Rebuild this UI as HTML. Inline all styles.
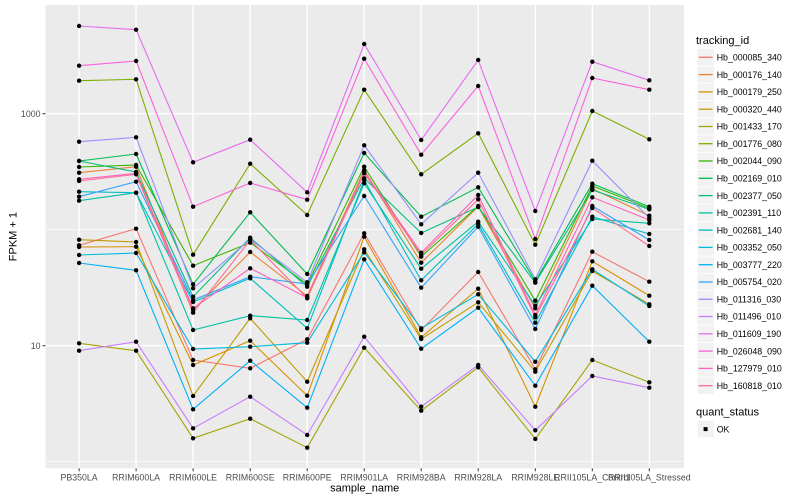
<!DOCTYPE html>
<html><head><meta charset="utf-8"><style>
html,body{margin:0;padding:0;background:#fff;}
svg{display:block;font-family:"Liberation Sans",Arial,sans-serif;}
.ln{fill:none;stroke-width:1.1;}
.pt{fill:none;stroke:none;marker-start:url(#m);marker-mid:url(#m);marker-end:url(#m);}
.tk{font-size:8.8px;fill:#4d4d4d;}
.lg{font-size:8.8px;fill:#000;}
</style></head><body>
<svg width="800" height="500" viewBox="0 0 800 500" xmlns="http://www.w3.org/2000/svg">
<defs><marker id="m" markerWidth="6" markerHeight="6" refX="3" refY="3" markerUnits="userSpaceOnUse"><circle cx="3" cy="3" r="2.2" fill="#000"/></marker></defs>
<rect x="0" y="0" width="800" height="500" fill="#fff"/>
<rect x="45.5" y="5" width="638.5" height="463.3" fill="#ebebeb"/>
<g stroke="#fff" stroke-width="0.7">
<line x1="45.5" x2="684" y1="229.7" y2="229.7"/>
<line x1="45.5" x2="684" y1="461.7" y2="461.7"/>
</g>
<g stroke="#fff" stroke-width="1.4">
<line x1="45.5" x2="684" y1="113.7" y2="113.7"/>
<line x1="45.5" x2="684" y1="345.7" y2="345.7"/>
<line x1="79.1" x2="79.1" y1="5" y2="468.3"/>
<line x1="136.1" x2="136.1" y1="5" y2="468.3"/>
<line x1="193.1" x2="193.1" y1="5" y2="468.3"/>
<line x1="250.2" x2="250.2" y1="5" y2="468.3"/>
<line x1="307.2" x2="307.2" y1="5" y2="468.3"/>
<line x1="364.2" x2="364.2" y1="5" y2="468.3"/>
<line x1="421.2" x2="421.2" y1="5" y2="468.3"/>
<line x1="478.2" x2="478.2" y1="5" y2="468.3"/>
<line x1="535.3" x2="535.3" y1="5" y2="468.3"/>
<line x1="592.3" x2="592.3" y1="5" y2="468.3"/>
<line x1="649.3" x2="649.3" y1="5" y2="468.3"/>
</g>
<g id="lines" class="ln">
<polyline stroke="#F8766D" points="79.1,245.3 136.1,228.7 193.1,360 250.2,368.3 307.2,339.3 364.2,233.3 421.2,330 478.2,272 535.3,369.3 592.3,251.7 649.3,281.7"/>
<polyline stroke="#EA8331" points="79.1,172.7 136.1,166.7 193.1,310 250.2,252 307.2,296 364.2,170 421.2,262.7 478.2,206.5 535.3,308.3 592.3,188.7 649.3,215.7"/>
<polyline stroke="#D89000" points="79.1,247 136.1,246.7 193.1,365 250.2,340.7 307.2,395.7 364.2,236.7 421.2,337.3 478.2,288.7 535.3,406.7 592.3,261.3 649.3,295.7"/>
<polyline stroke="#C09B00" points="79.1,239.7 136.1,242 193.1,396 250.2,318.3 307.2,381.7 364.2,249.3 421.2,339 478.2,302.3 535.3,371.7 592.3,271 649.3,304.3"/>
<polyline stroke="#A3A500" points="79.1,343.3 136.1,350.7 193.1,438.3 250.2,418.7 307.2,447.7 364.2,347.7 421.2,410.7 478.2,367.3 535.3,439 592.3,360 649.3,382.3"/>
<polyline stroke="#7CAE00" points="79.1,80.7 136.1,79.3 193.1,254.7 250.2,163.7 307.2,215 364.2,89.7 421.2,174.3 478.2,133.3 535.3,244.7 592.3,111 649.3,139.3"/>
<polyline stroke="#39B600" points="79.1,167 136.1,165 193.1,265.7 250.2,242.7 307.2,284.3 364.2,166.7 421.2,256.7 478.2,206 535.3,300.7 592.3,186 649.3,208.3"/>
<polyline stroke="#00BB4E" points="79.1,161 136.1,154 193.1,284.3 250.2,212.3 307.2,274 364.2,153 421.2,216.7 478.2,187.3 535.3,281.3 592.3,183.7 649.3,206.7"/>
<polyline stroke="#00BF7D" points="79.1,161 136.1,172 193.1,296.7 250.2,237.7 307.2,286.7 364.2,178.3 421.2,233 478.2,207 535.3,282.7 592.3,190 649.3,209.3"/>
<polyline stroke="#00C1A3" points="79.1,200.7 136.1,192.7 193.1,330 250.2,315.7 307.2,320 364.2,183.3 421.2,268.7 478.2,221.7 535.3,305.7 592.3,219 649.3,223.3"/>
<polyline stroke="#00BFC4" points="79.1,191.7 136.1,192.7 193.1,302 250.2,278.3 307.2,328.3 364.2,180 421.2,280.3 478.2,224 535.3,322.7 592.3,216.7 649.3,234"/>
<polyline stroke="#00BAE0" points="79.1,255 136.1,253 193.1,349 250.2,346.7 307.2,342.7 364.2,252.3 421.2,328.3 478.2,294.3 535.3,361.7 592.3,269.3 649.3,306"/>
<polyline stroke="#00B0F6" points="79.1,263 136.1,270.3 193.1,409.3 250.2,360.7 307.2,407.7 364.2,259.3 421.2,348.7 478.2,307.7 535.3,385.7 592.3,285.7 649.3,341.7"/>
<polyline stroke="#35A2FF" points="79.1,196.7 136.1,181.7 193.1,300 250.2,276.7 307.2,284 364.2,196 421.2,287.7 478.2,226.7 535.3,329 592.3,206 649.3,240"/>
<polyline stroke="#9590FF" points="79.1,141.7 136.1,137.3 193.1,288.3 250.2,239.3 307.2,282.3 364.2,145.3 421.2,224.3 478.2,172.7 535.3,279.3 592.3,160.7 649.3,218"/>
<polyline stroke="#C77CFF" points="79.1,350.7 136.1,341.7 193.1,428.3 250.2,396.7 307.2,435 364.2,336.7 421.2,406.7 478.2,365 535.3,430.3 592.3,376 649.3,387.7"/>
<polyline stroke="#E76BF3" points="79.1,26 136.1,29.7 193.1,162.3 250.2,139.7 307.2,192.3 364.2,44 421.2,140 478.2,60 535.3,211 592.3,61.7 649.3,80.3"/>
<polyline stroke="#FA62DB" points="79.1,65.7 136.1,61 193.1,206.7 250.2,183 307.2,199.7 364.2,58.7 421.2,154.7 478.2,86 535.3,239 592.3,78 649.3,89.7"/>
<polyline stroke="#FF62BC" points="79.1,179.3 136.1,173.3 193.1,308.3 250.2,268.3 307.2,297.7 364.2,171.7 421.2,252.7 478.2,195 535.3,315 592.3,197.3 649.3,220"/>
<polyline stroke="#FF6C91" points="79.1,181 136.1,174.3 193.1,312.7 250.2,240 307.2,298.3 364.2,173.3 421.2,254.7 478.2,199.3 535.3,317.3 592.3,208 649.3,246"/>
</g>
<g class="pt">
<polyline points="79.1,245.3 136.1,228.7 193.1,360 250.2,368.3 307.2,339.3 364.2,233.3 421.2,330 478.2,272 535.3,369.3 592.3,251.7 649.3,281.7"/>
<polyline points="79.1,172.7 136.1,166.7 193.1,310 250.2,252 307.2,296 364.2,170 421.2,262.7 478.2,206.5 535.3,308.3 592.3,188.7 649.3,215.7"/>
<polyline points="79.1,247 136.1,246.7 193.1,365 250.2,340.7 307.2,395.7 364.2,236.7 421.2,337.3 478.2,288.7 535.3,406.7 592.3,261.3 649.3,295.7"/>
<polyline points="79.1,239.7 136.1,242 193.1,396 250.2,318.3 307.2,381.7 364.2,249.3 421.2,339 478.2,302.3 535.3,371.7 592.3,271 649.3,304.3"/>
<polyline points="79.1,343.3 136.1,350.7 193.1,438.3 250.2,418.7 307.2,447.7 364.2,347.7 421.2,410.7 478.2,367.3 535.3,439 592.3,360 649.3,382.3"/>
<polyline points="79.1,80.7 136.1,79.3 193.1,254.7 250.2,163.7 307.2,215 364.2,89.7 421.2,174.3 478.2,133.3 535.3,244.7 592.3,111 649.3,139.3"/>
<polyline points="79.1,167 136.1,165 193.1,265.7 250.2,242.7 307.2,284.3 364.2,166.7 421.2,256.7 478.2,206 535.3,300.7 592.3,186 649.3,208.3"/>
<polyline points="79.1,161 136.1,154 193.1,284.3 250.2,212.3 307.2,274 364.2,153 421.2,216.7 478.2,187.3 535.3,281.3 592.3,183.7 649.3,206.7"/>
<polyline points="79.1,161 136.1,172 193.1,296.7 250.2,237.7 307.2,286.7 364.2,178.3 421.2,233 478.2,207 535.3,282.7 592.3,190 649.3,209.3"/>
<polyline points="79.1,200.7 136.1,192.7 193.1,330 250.2,315.7 307.2,320 364.2,183.3 421.2,268.7 478.2,221.7 535.3,305.7 592.3,219 649.3,223.3"/>
<polyline points="79.1,191.7 136.1,192.7 193.1,302 250.2,278.3 307.2,328.3 364.2,180 421.2,280.3 478.2,224 535.3,322.7 592.3,216.7 649.3,234"/>
<polyline points="79.1,255 136.1,253 193.1,349 250.2,346.7 307.2,342.7 364.2,252.3 421.2,328.3 478.2,294.3 535.3,361.7 592.3,269.3 649.3,306"/>
<polyline points="79.1,263 136.1,270.3 193.1,409.3 250.2,360.7 307.2,407.7 364.2,259.3 421.2,348.7 478.2,307.7 535.3,385.7 592.3,285.7 649.3,341.7"/>
<polyline points="79.1,196.7 136.1,181.7 193.1,300 250.2,276.7 307.2,284 364.2,196 421.2,287.7 478.2,226.7 535.3,329 592.3,206 649.3,240"/>
<polyline points="79.1,141.7 136.1,137.3 193.1,288.3 250.2,239.3 307.2,282.3 364.2,145.3 421.2,224.3 478.2,172.7 535.3,279.3 592.3,160.7 649.3,218"/>
<polyline points="79.1,350.7 136.1,341.7 193.1,428.3 250.2,396.7 307.2,435 364.2,336.7 421.2,406.7 478.2,365 535.3,430.3 592.3,376 649.3,387.7"/>
<polyline points="79.1,26 136.1,29.7 193.1,162.3 250.2,139.7 307.2,192.3 364.2,44 421.2,140 478.2,60 535.3,211 592.3,61.7 649.3,80.3"/>
<polyline points="79.1,65.7 136.1,61 193.1,206.7 250.2,183 307.2,199.7 364.2,58.7 421.2,154.7 478.2,86 535.3,239 592.3,78 649.3,89.7"/>
<polyline points="79.1,179.3 136.1,173.3 193.1,308.3 250.2,268.3 307.2,297.7 364.2,171.7 421.2,252.7 478.2,195 535.3,315 592.3,197.3 649.3,220"/>
<polyline points="79.1,181 136.1,174.3 193.1,312.7 250.2,240 307.2,298.3 364.2,173.3 421.2,254.7 478.2,199.3 535.3,317.3 592.3,208 649.3,246"/>
</g>
<!-- axes ticks -->
<g stroke="#333" stroke-width="1">
<line x1="42.5" x2="45.5" y1="113.7" y2="113.7"/>
<line x1="42.5" x2="45.5" y1="345.7" y2="345.7"/>
<line x1="79.1" x2="79.1" y1="468.3" y2="471.3"/>
<line x1="136.1" x2="136.1" y1="468.3" y2="471.3"/>
<line x1="193.1" x2="193.1" y1="468.3" y2="471.3"/>
<line x1="250.2" x2="250.2" y1="468.3" y2="471.3"/>
<line x1="307.2" x2="307.2" y1="468.3" y2="471.3"/>
<line x1="364.2" x2="364.2" y1="468.3" y2="471.3"/>
<line x1="421.2" x2="421.2" y1="468.3" y2="471.3"/>
<line x1="478.2" x2="478.2" y1="468.3" y2="471.3"/>
<line x1="535.3" x2="535.3" y1="468.3" y2="471.3"/>
<line x1="592.3" x2="592.3" y1="468.3" y2="471.3"/>
<line x1="649.3" x2="649.3" y1="468.3" y2="471.3"/>
</g>
<text class="tk" x="40.5" y="116.9" text-anchor="end">1000</text>
<text class="tk" x="40.5" y="348.9" text-anchor="end">10</text>
<g class="tk" text-anchor="middle">
<text x="79.1" y="480.5">PB350LA</text>
<text x="136.1" y="480.5">RRIM600LA</text>
<text x="193.1" y="480.5">RRIM600LE</text>
<text x="250.2" y="480.5">RRIM600SE</text>
<text x="307.2" y="480.5">RRIM600PE</text>
<text x="364.2" y="480.5">RRIM901LA</text>
<text x="421.2" y="480.5">RRIM928BA</text>
<text x="478.2" y="480.5">RRIM928LA</text>
<text x="535.3" y="480.5">RRIM928LE</text>
<text x="592.3" y="480.5">RRII105LA_Control</text>
<text x="649.3" y="480.5">RRII105LA_Stressed</text>
</g>
<text x="364.7" y="491.5" font-size="11" text-anchor="middle" fill="#000">sample_name</text>
<text transform="translate(16.5,236.6) rotate(-90)" font-size="11" text-anchor="middle" fill="#000">FPKM + 1</text>
<!-- legend -->
<text x="696" y="44" font-size="11" fill="#000">tracking_id</text>
<g stroke="#fff" stroke-width="0.8" fill="#f2f2f2">
<rect x="697" y="48.7" width="17.3" height="17.3"/>
<rect x="697" y="66" width="17.3" height="17.3"/>
<rect x="697" y="83.3" width="17.3" height="17.3"/>
<rect x="697" y="100.5" width="17.3" height="17.3"/>
<rect x="697" y="117.8" width="17.3" height="17.3"/>
<rect x="697" y="135.1" width="17.3" height="17.3"/>
<rect x="697" y="152.4" width="17.3" height="17.3"/>
<rect x="697" y="169.7" width="17.3" height="17.3"/>
<rect x="697" y="186.9" width="17.3" height="17.3"/>
<rect x="697" y="204.2" width="17.3" height="17.3"/>
<rect x="697" y="221.5" width="17.3" height="17.3"/>
<rect x="697" y="238.8" width="17.3" height="17.3"/>
<rect x="697" y="256.1" width="17.3" height="17.3"/>
<rect x="697" y="273.3" width="17.3" height="17.3"/>
<rect x="697" y="290.6" width="17.3" height="17.3"/>
<rect x="697" y="307.9" width="17.3" height="17.3"/>
<rect x="697" y="325.2" width="17.3" height="17.3"/>
<rect x="697" y="342.5" width="17.3" height="17.3"/>
<rect x="697" y="359.7" width="17.3" height="17.3"/>
<rect x="697" y="377" width="17.3" height="17.3"/>
<rect x="697" y="420.5" width="17.3" height="17.3"/>
</g>
<g stroke-width="1.3">
<line x1="698.7" x2="712.6" y1="57.3" y2="57.3" stroke="#F8766D"/>
<line x1="698.7" x2="712.6" y1="74.6" y2="74.6" stroke="#EA8331"/>
<line x1="698.7" x2="712.6" y1="91.9" y2="91.9" stroke="#D89000"/>
<line x1="698.7" x2="712.6" y1="109.2" y2="109.2" stroke="#C09B00"/>
<line x1="698.7" x2="712.6" y1="126.5" y2="126.5" stroke="#A3A500"/>
<line x1="698.7" x2="712.6" y1="143.7" y2="143.7" stroke="#7CAE00"/>
<line x1="698.7" x2="712.6" y1="161" y2="161" stroke="#39B600"/>
<line x1="698.7" x2="712.6" y1="178.3" y2="178.3" stroke="#00BB4E"/>
<line x1="698.7" x2="712.6" y1="195.6" y2="195.6" stroke="#00BF7D"/>
<line x1="698.7" x2="712.6" y1="212.9" y2="212.9" stroke="#00C1A3"/>
<line x1="698.7" x2="712.6" y1="230.1" y2="230.1" stroke="#00BFC4"/>
<line x1="698.7" x2="712.6" y1="247.4" y2="247.4" stroke="#00BAE0"/>
<line x1="698.7" x2="712.6" y1="264.7" y2="264.7" stroke="#00B0F6"/>
<line x1="698.7" x2="712.6" y1="282" y2="282" stroke="#35A2FF"/>
<line x1="698.7" x2="712.6" y1="299.3" y2="299.3" stroke="#9590FF"/>
<line x1="698.7" x2="712.6" y1="316.5" y2="316.5" stroke="#C77CFF"/>
<line x1="698.7" x2="712.6" y1="333.8" y2="333.8" stroke="#E76BF3"/>
<line x1="698.7" x2="712.6" y1="351.1" y2="351.1" stroke="#FA62DB"/>
<line x1="698.7" x2="712.6" y1="368.4" y2="368.4" stroke="#FF62BC"/>
<line x1="698.7" x2="712.6" y1="385.7" y2="385.7" stroke="#FF6C91"/>
</g>
<g class="lg">
<text x="716.7" y="60.5">Hb_000085_340</text>
<text x="716.7" y="77.8">Hb_000176_140</text>
<text x="716.7" y="95.1">Hb_000179_250</text>
<text x="716.7" y="112.4">Hb_000320_440</text>
<text x="716.7" y="129.7">Hb_001433_170</text>
<text x="716.7" y="146.9">Hb_001776_080</text>
<text x="716.7" y="164.2">Hb_002044_090</text>
<text x="716.7" y="181.5">Hb_002169_010</text>
<text x="716.7" y="198.8">Hb_002377_050</text>
<text x="716.7" y="216.1">Hb_002391_110</text>
<text x="716.7" y="233.3">Hb_002681_140</text>
<text x="716.7" y="250.6">Hb_003352_050</text>
<text x="716.7" y="267.9">Hb_003777_220</text>
<text x="716.7" y="285.2">Hb_005754_020</text>
<text x="716.7" y="302.5">Hb_011316_030</text>
<text x="716.7" y="319.7">Hb_011496_010</text>
<text x="716.7" y="337">Hb_011609_190</text>
<text x="716.7" y="354.3">Hb_026048_090</text>
<text x="716.7" y="371.6">Hb_127979_010</text>
<text x="716.7" y="388.9">Hb_160818_010</text>
</g>
<text x="696" y="415.5" font-size="11" fill="#000">quant_status</text>
<rect x="703.6" y="427.1" width="4" height="4" fill="#000"/>
<text class="lg" x="716.7" y="432.3">OK</text>
</svg>
</body></html>
